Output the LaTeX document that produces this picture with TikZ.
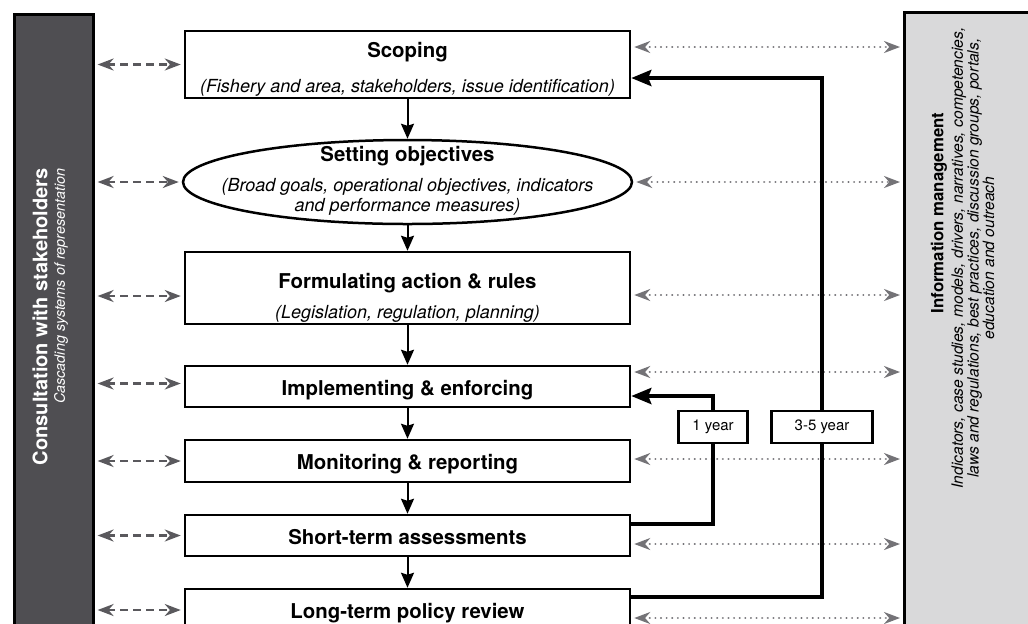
\documentclass[tikz,border=0pt]{standalone}
\usepackage{fontspec}
\setmainfont{TeX Gyre Heros}
\usetikzlibrary{arrows.meta,shapes.geometric}
\definecolor{bardark}{HTML}{4F4E52}
\definecolor{barlight}{HTML}{D9D9DA}
\definecolor{dashgray}{HTML}{5A595D}
\definecolor{dotgray}{HTML}{747377}
\newcommand\subline[1]{{\fontsize{9}{10.8}\selectfont\mdseries\itshape #1}}

\begin{document}
\begin{tikzpicture}[x=0.5pt,y=-0.5pt,
  stage/.style={draw,line width=1.25pt,fill=white,minimum width=222.5pt,align=center,inner sep=0pt,text height=8.8pt,text depth=0pt,font=\fontsize{10.2}{12}\selectfont\bfseries},
  stagetext/.style={align=center,inner sep=0pt,font=\fontsize{10.2}{12}\selectfont\bfseries},
  sidebar/.style={draw,line width=1.3pt,anchor=north west,inner sep=0pt,minimum height=335pt},
  flow/.style={-{Stealth[length=7.5pt,width=6.5pt,inset=1pt]},line width=1pt},
  cycle/.style={-{Stealth[length=10pt,width=8pt,inset=1.5pt]},line width=2pt},
  consultarrow/.style={{Stealth[length=8pt,width=6pt]}-{Stealth[length=8pt,width=6pt]},dashgray,line width=1.2pt,dash pattern=on 4pt off 2.5pt,shorten <=1.5pt,shorten >=1.5pt},
  infoarrow/.style={{Stealth[length=8pt,width=6pt]}-{Stealth[length=8pt,width=6pt]},dotgray,line width=1.1pt,dash pattern=on 0.01pt off 2.8pt,line cap=round,shorten <=1.5pt,shorten >=1.5pt},
  yearbox/.style={draw,line width=1.25pt,fill=white,minimum height=16pt,inner sep=0pt,font=\fontsize{7.5}{9}\selectfont}]
\useasboundingbox (0,0) rectangle (1028,623);
\clip (0,0) rectangle (1028,623);

\node[sidebar,fill=bardark,minimum width=39.5pt] (consult) at (13,13) {};
\node[sidebar,fill=barlight,minimum width=70pt] (info) at (903,11) {};
\node[rotate=90,anchor=east,inner sep=0pt,text=white,font=\fontsize{10}{12}\selectfont\bfseries] (consulttitle) at (40,168) {Consultation with stakeholders};
\node[rotate=90,anchor=east,inner sep=0pt,text=white,font=\fontsize{7.2}{9}\selectfont\itshape] (consultsub) at (61,168) {Cascading systems of representation};
\node[rotate=90,inner sep=0pt,font=\fontsize{8.4}{10}\selectfont\bfseries] (infotitle) at (939,213) {Information management};
\node[rotate=90,inner sep=0pt,align=center,font=\fontsize{7.8}{7.8}\selectfont\itshape] (infosub) at (973,258) {Indicators, case studies, models, drivers, narratives, competencies,\\laws and regulations, best practices, discussion groups, portals,\\education and outreach};

\node[stage,minimum height=33.5pt] (scope) at (407.5,64.5) {};
\node[stagetext] (scopetext) at ([yshift=-2.5pt]scope.center) {Scoping\\[5.5pt]\subline{(Fishery and area, stakeholders, issue identification)}};
\node[draw,ellipse,line width=1.25pt,fill=white,minimum width=224.5pt,minimum height=42pt,inner sep=0pt] (objectives) at (407.5,182) {};
\node[stagetext] (objtext) at (407.5,180.5) {Setting objectives\\[3pt]\subline{(Broad goals, operational objectives, indicators}\\[-2pt]\subline{and performance measures)}};
\node[stage,minimum height=36pt] (formulate) at (407.5,288) {};
\node[stagetext] (formulatetext) at ([yshift=-5pt]formulate.center) {Formulating action \& rules\\[3pt]\subline{(Legislation, regulation, planning)}};
\node[stage,minimum height=20.5pt] (implement) at (407.5,386.5) {Implementing \& enforcing};
\node[stage,minimum height=21pt] (monitor) at (407.5,461) {Monitoring \& reporting};
\node[stage,minimum height=20.5pt] (shortterm) at (407.5,535.5) {Short-term assessments};
\node[stage,minimum height=21pt] (longterm) at (407.5,610) {Long-term policy review};

\draw[flow] (scope) -- (objectives);
\draw[flow] (objectives) -- (formulate);
\draw[flow] (formulate) -- (implement);
\draw[flow] (implement) -- (monitor);
\draw[flow] (monitor) -- (shortterm);
\draw[flow] (shortterm) -- (longterm);

\draw[consultarrow] (consult.east |- scope.west) -- (scope.west);
\draw[consultarrow] (consult.east |- objectives.west) -- (objectives.west);
\draw[consultarrow] ([yshift=-4pt]formulate.west -| consult.east) -- ([yshift=-4pt]formulate.west);
\draw[consultarrow] ([yshift=1.5pt]implement.west -| consult.east) -- ([yshift=1.5pt]implement.west);
\draw[consultarrow] (consult.east |- monitor.west) -- (monitor.west);
\draw[consultarrow] (consult.east |- shortterm.west) -- (shortterm.west);
\draw[consultarrow] (consult.east |- longterm.west) -- (longterm.west);

\draw[infoarrow] ([yshift=8.75pt]scope.east) -- ([yshift=8.75pt]scope.east -| info.west);
\draw[infoarrow] (objectives.east) -- (objectives.east -| info.west);
\draw[infoarrow] ([yshift=-3.5pt]formulate.east) -- ([yshift=-3.5pt]formulate.east -| info.west);
\draw[infoarrow] ([yshift=7.25pt]implement.east) -- ([yshift=7.25pt]implement.east -| info.west);
\draw[infoarrow] ([yshift=1pt]monitor.east) -- ([yshift=1pt]monitor.east -| info.west);
\draw[infoarrow] ([yshift=-4.25pt]shortterm.east) -- ([yshift=-4.25pt]shortterm.east -| info.west);
\draw[infoarrow] ([yshift=-4pt]longterm.east) -- ([yshift=-4pt]longterm.east -| info.west);

\node[yearbox,minimum width=34.5pt] (yearone) at (713,427) {1 year};
\node[yearbox,minimum width=50.5pt] (yearthree) at (822,427) {3-5 year};
\draw[cycle] ([yshift=5.75pt]shortterm.east) -| (yearone) |- ([yshift=-4.75pt]implement.east);
\draw[cycle] ([yshift=6.5pt]longterm.east) -| (yearthree) |- ([yshift=-6.75pt]scope.east);
\end{tikzpicture}
\end{document}
